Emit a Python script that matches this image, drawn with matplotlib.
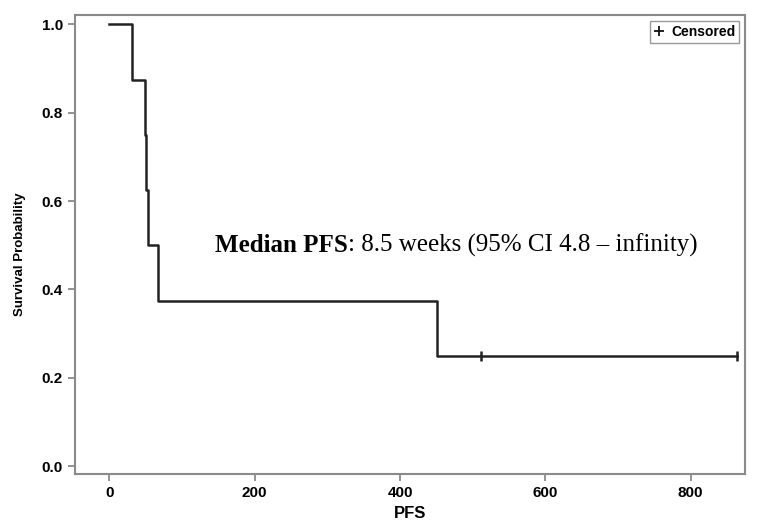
import numpy as np
import matplotlib.pyplot as plt
from matplotlib.lines import Line2D

# Kaplan-Meier step data
event_times = [0, 31.6, 49, 50.5, 52.8, 67.4, 451.3, 863]
survival = [1.0, 0.875, 0.75, 0.625, 0.5, 0.375, 0.25, 0.25]
censor_times = [511, 863]
censor_surv = [0.25, 0.25]

x_ticks = [0, 200, 400, 600, 800]
y_ticks = [0.0, 0.2, 0.4, 0.6, 0.8, 1.0]

sans = 'Liberation Sans'
serif = 'Liberation Serif'
spine_col = '#8a8a8a'
line_col = '#222222'

fig = plt.figure(figsize=(7.62, 5.30), dpi=100)
ax = fig.add_axes([0.0988, 0.1057, 0.8789, 0.866])

ax.step(event_times, survival, where='post', color=line_col, lw=1.8)
ax.plot(censor_times, censor_surv, ls='none', marker='|', ms=7, mew=1.8, color=line_col)

ax.set_xlim(-46.8, 874.7)
ax.set_ylim(-0.0174, 1.021)
ax.set_xticks(x_ticks)
ax.set_yticks(y_ticks)
ax.set_xticklabels([str(v) for v in x_ticks], fontfamily=sans, fontweight='bold', fontsize=11)
ax.set_yticklabels(['%.1f' % v for v in y_ticks], fontfamily=sans, fontweight='bold', fontsize=11)
ax.tick_params(axis='both', color=spine_col, length=5, width=1.3, pad=4)

for s in ax.spines.values():
    s.set_color(spine_col)
    s.set_linewidth(1.5)

ax.set_xlabel('PFS', fontfamily=sans, fontweight='bold', fontsize=12, labelpad=4)
ax.set_ylabel('Survival Probability', fontfamily=sans, fontweight='bold', fontsize=9.5)
ax.yaxis.set_label_coords(-0.074, 0.479)

# annotation: bold lead-in, then regular text
txt = ax.text(145, 0.50, 'Median PFS', fontsize=18, fontfamily=serif,
              fontweight='bold', va='center', ha='left')
fig.canvas.draw()
bb = txt.get_window_extent().transformed(ax.transData.inverted())
ax.text(bb.x1, 0.50, ': 8.5 weeks (95% CI 4.8 \u2013 infinity)', fontsize=18,
        fontfamily=serif, va='center', ha='left')

handle = Line2D([], [], ls='none', marker='+', ms=7, mew=1.3, color='#111111')
leg = ax.legend([handle], ['Censored'], loc='upper right', handlelength=0.7,
                handletextpad=0.5, borderpad=0.3, borderaxespad=0.4, fancybox=False,
                framealpha=1, edgecolor='#999999',
                prop={'family': sans, 'size': 10, 'weight': 'bold'})
leg.get_frame().set_linewidth(1.0)

fig.savefig('out.png', dpi=100)
